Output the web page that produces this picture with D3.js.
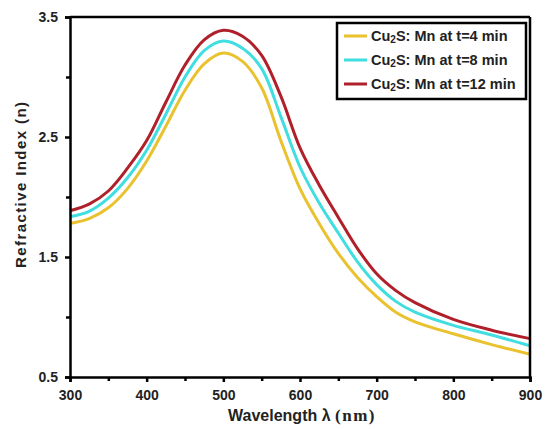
<!DOCTYPE html>
<html><head><meta charset="utf-8">
<script src="https://cdn.jsdelivr.net/npm/d3@7"></script>
<style>body{margin:0;background:#fff;} svg{display:block;}</style>
</head><body>
<svg id="c" width="548" height="429"></svg>
<script>
const wavelengths = [300,325,350,375,400,425,450,475,500,525,550,575,600,625,650,675,700,725,750,800,850,900];
const n4  = [1.78,1.82,1.91,2.07,2.30,2.59,2.89,3.11,3.20,3.13,2.91,2.47,2.07,1.78,1.53,1.33,1.17,1.04,0.96,0.86,0.77,0.69];
const n8  = [1.835,1.88,1.99,2.16,2.39,2.69,3.00,3.22,3.30,3.24,3.07,2.67,2.25,1.95,1.70,1.46,1.27,1.13,1.04,0.93,0.85,0.76];
const n12 = [1.885,1.94,2.05,2.24,2.47,2.79,3.10,3.31,3.39,3.34,3.18,2.84,2.41,2.10,1.83,1.57,1.36,1.22,1.12,0.98,0.89,0.82];
const seriesNames = ["t=4 min","t=8 min","t=12 min"];
const seriesColors = ["#E9C22E","#40DEE0","#B0202A"];
const xTicks = [300,400,500,600,700,800,900];
const xMinor = [350,450,550,650,750,850];
const yTicks = [0.5,1.5,2.5,3.5];
const yMinor = [1.0,2.0,3.0];

const svg = d3.select("#c");
const L=70,R=530,T=17,B=377;
const x = d3.scaleLinear().domain([300,900]).range([L,R]);
const y = d3.scaleLinear().domain([0.5,3.5]).range([B,T]);
const allSeries = [n4,n8,n12];

const line = d3.line().x((d,i)=>x(wavelengths[i])).y(d=>y(d)).curve(d3.curveCatmullRom.alpha(0.5));
allSeries.forEach((s,k)=>{
  svg.append("path").datum(s).attr("d",line).attr("fill","none")
    .attr("stroke",seriesColors[k]).attr("stroke-width",3);
});

// frame
svg.append("line").attr("x1",L).attr("x2",R).attr("y1",T).attr("y2",T).attr("stroke","#000").attr("stroke-width",2.5);
svg.append("line").attr("x1",R).attr("x2",R).attr("y1",T).attr("y2",B).attr("stroke","#000").attr("stroke-width",2.5);

const font = "Arial, 'Liberation Sans', sans-serif";
const xAxis = svg.append("g").attr("transform",`translate(0,${B})`)
  .call(d3.axisBottom(x).tickValues(xTicks).tickSize(5).tickFormat(d3.format("d")));
const xm = svg.append("g").attr("transform",`translate(0,${B})`)
  .call(d3.axisBottom(x).tickValues(xMinor).tickSize(4).tickFormat(""));
xm.select(".domain").remove();
const yAxis = svg.append("g").attr("transform",`translate(${L},0)`)
  .call(d3.axisLeft(y).tickValues(yTicks).tickSize(5).tickFormat(d3.format(".1f")));
const ym = svg.append("g").attr("transform",`translate(${L},0)`)
  .call(d3.axisLeft(y).tickValues(yMinor).tickSize(4).tickFormat(""));
ym.select(".domain").remove();
[xAxis,yAxis,xm,ym].forEach(g=>{
  g.selectAll(".domain").attr("stroke","#000").attr("stroke-width",2.5);
  g.selectAll(".tick line").attr("stroke","#000").attr("stroke-width",2.5);
  g.selectAll("text").attr("font-family",font).attr("font-weight","bold").attr("font-size",14).attr("fill","#222");
});
xAxis.selectAll("text").attr("dy","0.95em").attr("y",10);
yAxis.selectAll("text").attr("x",-12);

// axis titles
const xt = svg.append("text").attr("x",302).attr("y",421).attr("text-anchor","middle")
  .attr("font-family",font).attr("font-weight","bold").attr("font-size",16).attr("fill","#222");
xt.append("tspan").text("Wavelength λ ");
xt.append("tspan").attr("font-family","'Liberation Serif','Times New Roman',serif").attr("font-size",17)
  .attr("letter-spacing",1.5).text("(nm)");
svg.append("text").attr("transform","translate(26,185) rotate(-90)").attr("text-anchor","middle")
  .attr("font-family",font).attr("font-weight","bold").attr("font-size",15).attr("fill","#222")
  .attr("textLength",166).attr("lengthAdjust","spacing")
  .text("Refractive Index (n)");

// legend
const lg = svg.append("g");
lg.append("rect").attr("x",337).attr("y",23).attr("width",189).attr("height",76)
  .attr("fill","#fff").attr("stroke","#000").attr("stroke-width",2.5);
seriesNames.forEach((nm,k)=>{
  const yy = 36 + k*24;
  lg.append("line").attr("x1",344).attr("x2",367).attr("y1",yy).attr("y2",yy)
    .attr("stroke",seriesColors[k]).attr("stroke-width",3);
  const t = lg.append("text").attr("x",371).attr("y",yy+5)
    .attr("font-family",font).attr("font-weight","bold").attr("font-size",14.5).attr("fill","#222");
  t.append("tspan").text("Cu");
  t.append("tspan").attr("font-size",10).attr("dy",2).text("2");
  t.append("tspan").attr("dy",-2).text("S: Mn at " + nm);
});
</script>
</body></html>
